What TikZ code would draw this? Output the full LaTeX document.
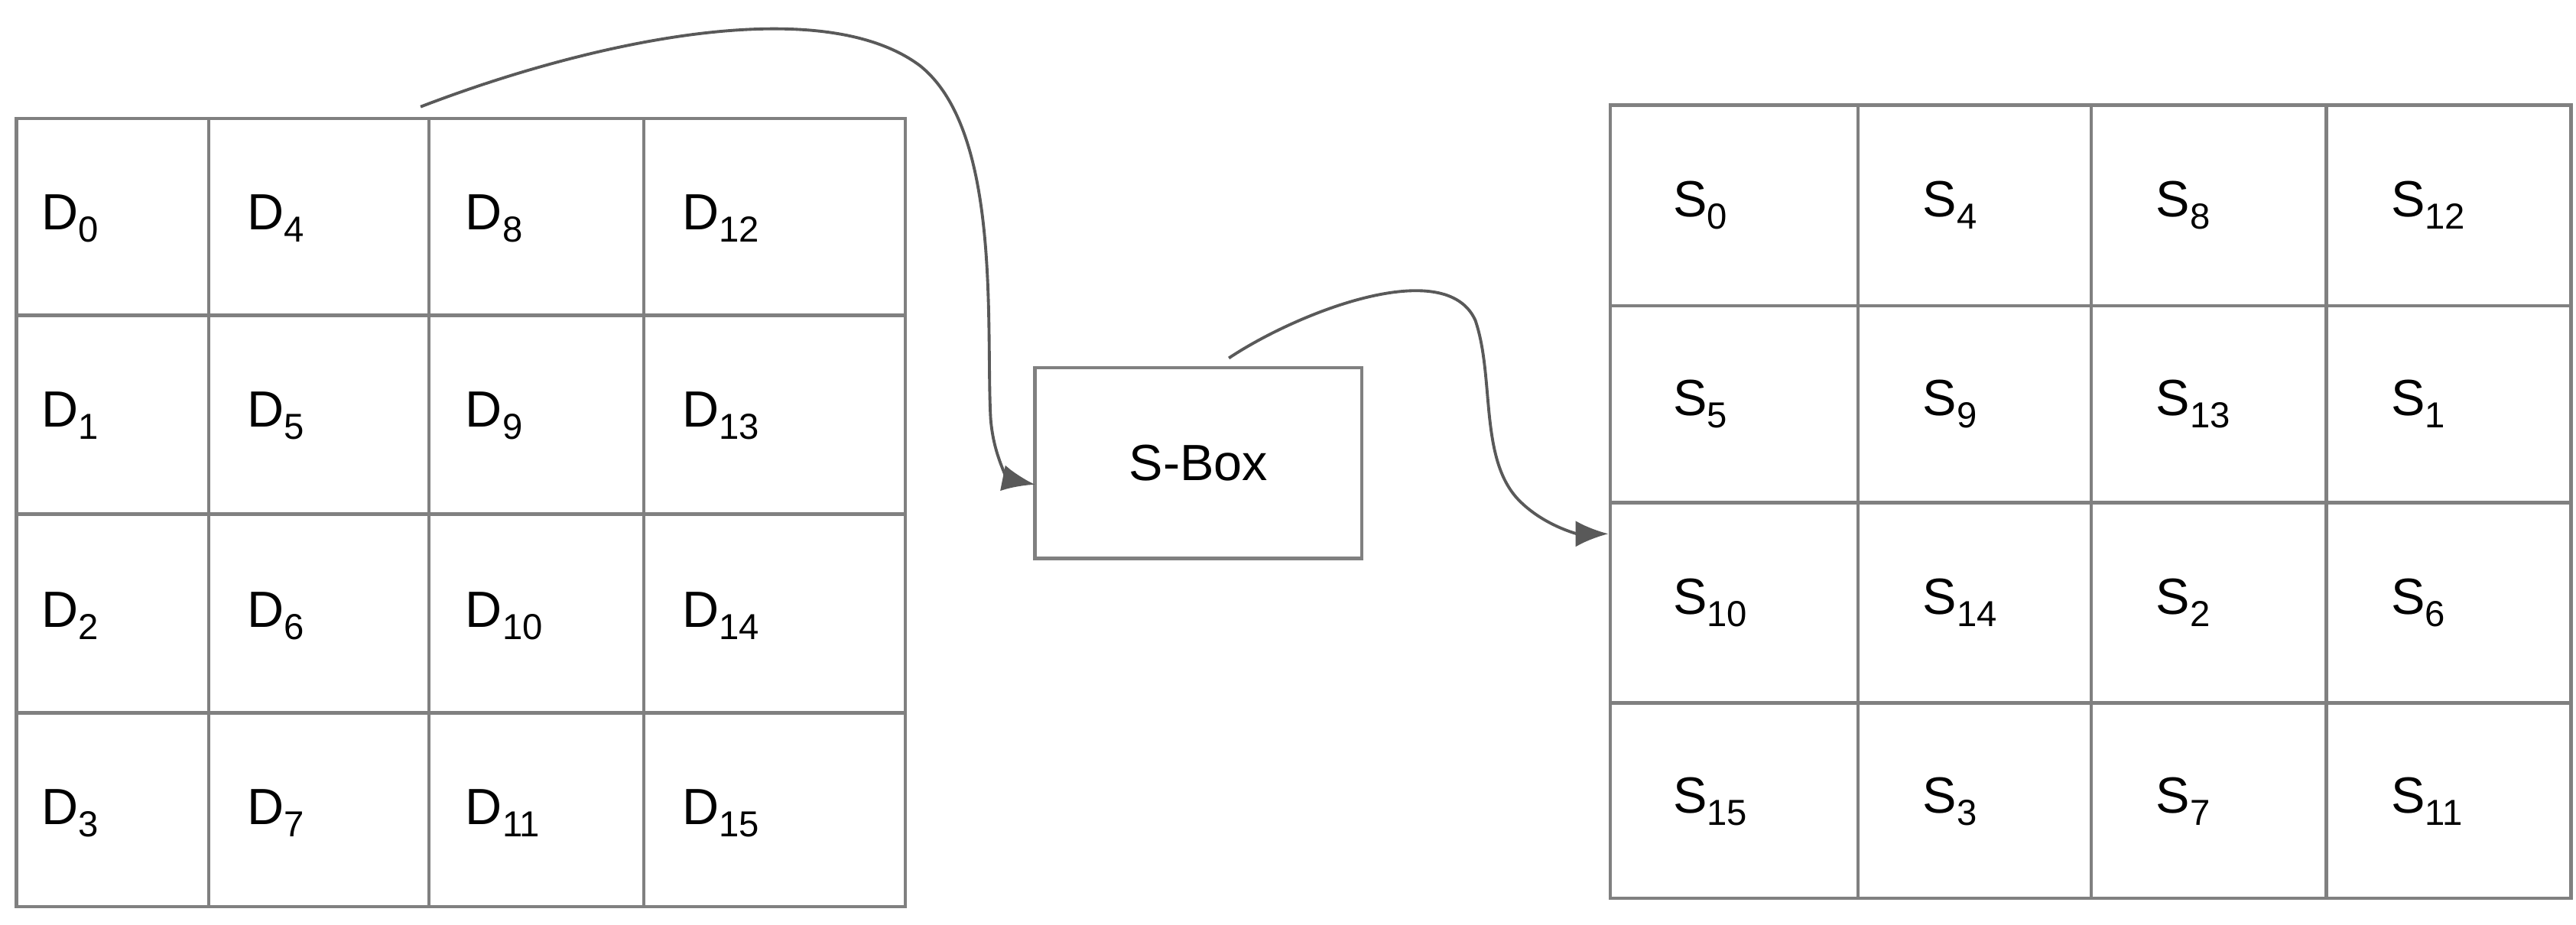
\documentclass[tikz,border=0pt]{standalone}
\usepackage{fontspec}
\setmainfont{Liberation Sans}
\usetikzlibrary{arrows.meta}
\newcommand{\lb}[2]{#1\raisebox{-0.45ex}{\fontsize{11}{12}\selectfont #2}}
\begin{document}
\begin{tikzpicture}[x=0.5pt,y=-0.5pt,
  grid/.style={draw=black!50,line width=1pt},
  lab/.style={anchor=west,font=\fontsize{15.5}{18}\selectfont,inner sep=0pt},
  conn/.style={draw=black!65,line width=0.9pt,-{Latex[length=10pt,width=8pt]}}]
\useasboundingbox (0,0) rectangle (1568,563);
% left grid
\draw[grid] (10,72) rectangle (551,552);
\foreach \x in {127,261,392} \draw[grid] (\x,72) -- (\x,552);
\foreach \y in {192,313,434} \draw[grid] (10,\y) -- (551,\y);
% right grid
\draw[grid] (980,64) rectangle (1565,547);
\foreach \x in {1131,1273,1416} \draw[grid] (\x,64) -- (\x,547);
\foreach \y in {186,306,428} \draw[grid] (980,\y) -- (1565,\y);
% D labels
\foreach \c/\xx in {0/25,1/150,2/283,3/415}{
  \foreach \r/\yy in {0/133,1/253,2/375,3/495}{
    \pgfmathtruncatemacro{\n}{4*\c+\r}
    \node[lab] (d\n) at (\xx,\yy) {\lb{D}{\n}};
  }}
% S labels
\node[lab] (s0) at (1018,125) {\lb{S}{0}};
\node[lab] (s4) at (1170,125) {\lb{S}{4}};
\node[lab] (s8) at (1312,125) {\lb{S}{8}};
\node[lab] (s12) at (1455,125) {\lb{S}{12}};
\node[lab] (s5) at (1018,246) {\lb{S}{5}};
\node[lab] (s9) at (1170,246) {\lb{S}{9}};
\node[lab] (s13) at (1312,246) {\lb{S}{13}};
\node[lab] (s1) at (1455,246) {\lb{S}{1}};
\node[lab] (s10) at (1018,367) {\lb{S}{10}};
\node[lab] (s14) at (1170,367) {\lb{S}{14}};
\node[lab] (s2) at (1312,367) {\lb{S}{2}};
\node[lab] (s6) at (1455,367) {\lb{S}{6}};
\node[lab] (s15) at (1018,488) {\lb{S}{15}};
\node[lab] (s3) at (1170,488) {\lb{S}{3}};
\node[lab] (s7) at (1312,488) {\lb{S}{7}};
\node[lab] (s11) at (1455,488) {\lb{S}{11}};
% S-Box
\node[draw=black!50,line width=1pt,minimum width=99.5pt,minimum height=58pt,inner sep=0pt,font=\fontsize{15.5}{18}\selectfont] (sbox) at (729.5,282) {S-Box};
\coordinate (a1) at (256,65);
\coordinate (b1) at (630,295);
\coordinate (a2) at (748,218);
\coordinate (b2) at (979,325);
\draw[conn] (a1) .. controls (360,25) and (500,-5) .. (560,40)
  .. controls (610,80) and (600,200) .. (603,255)
  .. controls (605,280) and (615,292) .. (b1);
\draw[conn] (a2) .. controls (790,190) and (880,155) .. (898,195)
  .. controls (910,230) and (900,280) .. (925,305)
  .. controls (940,320) and (960,325) .. (b2);
\end{tikzpicture}
\end{document}
